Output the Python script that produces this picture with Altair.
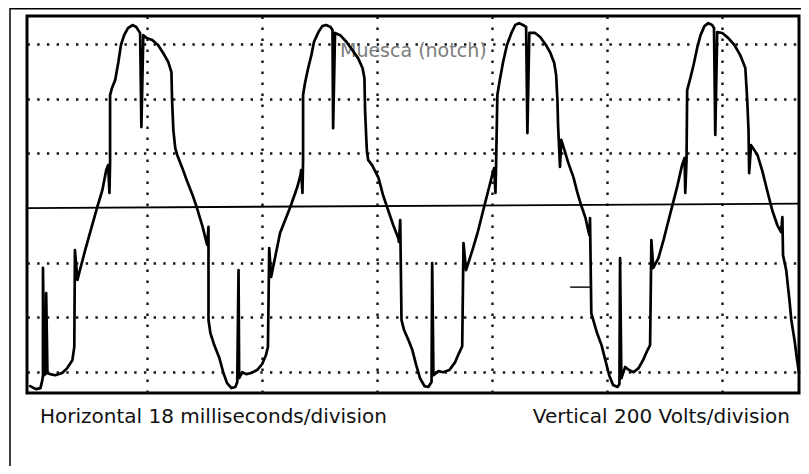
import altair as alt
import pandas as pd

# Oscilloscope trace: (time in ms, voltage in V)
cycle1 = [(-0.3, -651), (0.6, -662), (1.3, -658), (1.6, -629), (1.7, -611), (1.7, -219), (1.9, -611),
          (2.2, -603), (2.2, -311), (2.4, -603), (2.8, -607), (3.6, -611), (4.7, -603), (5.5, -585),
          (6.3, -556), (6.6, -508), (6.7, -154), (7.1, -263), (7.4, -234), (8.3, -154), (9.4, -62),
          (10.2, 4), (11.0, 66), (11.6, 139), (11.9, 157), (12.1, 55), (12.2, 168), (12.2, 413),
          (12.5, 439), (13.0, 468), (13.5, 534), (13.9, 596), (14.4, 632), (15.0, 658), (15.7, 669),
          (16.3, 662), (16.8, 643), (16.9, 640), (17.1, 296), (17.4, 632), (17.9, 622), (18.8, 614),
          (19.7, 596), (20.5, 567), (21.3, 534), (21.8, 497), (21.9, 395), (22.1, 285), (22.4, 219),
          (22.7, 194), (23.5, 146), (24.3, 95), (25.1, 48), (25.8, 0), (26.6, -62), (27.2, -117),
          (27.4, -135), (27.6, -69), (27.6, -409), (27.9, -457), (28.5, -501), (29.3, -548),
          (29.9, -600), (30.5, -640), (31.2, -658), (31.8, -654), (32.1, -636), (32.3, -227),
          (32.4, -622), (32.9, -600), (33.5, -607), (34.3, -603), (35.2, -592), (36.0, -570),
          (36.6, -537), (36.9, -508), (37.1, -146), (37.4, -252)]
cycle2 = [(38.8, -91), (40.4, 4), (41.5, 77), (42.0, 121), (42.1, 139), (42.3, 55), (42.4, 175),
          (42.4, 413), (42.7, 457), (43.2, 512), (43.7, 559), (44.1, 607), (44.8, 643), (45.4, 665),
          (46.0, 669), (46.7, 662), (47.0, 651), (47.1, 292), (47.4, 640), (48.2, 632), (49.2, 607),
          (50.1, 578), (51.0, 548), (51.7, 512), (52.0, 475), (52.1, 358), (52.3, 249), (52.4, 205),
          (52.6, 175), (53.2, 157), (54.2, 110), (54.9, 48), (55.7, -7), (56.5, -62), (57.3, -110),
          (57.4, -124), (57.6, -44), (57.8, -409), (58.2, -446), (58.9, -483), (59.5, -519),
          (60.1, -574), (60.7, -622), (61.4, -651), (62.0, -654), (62.5, -636), (62.6, -201),
          (62.8, -611), (63.6, -596), (64.3, -600), (65.3, -592), (66.2, -563), (66.8, -530),
          (67.3, -505), (67.5, -128), (67.9, -227), (68.9, -154), (69.7, -91), (70.6, -7),
          (71.4, 66), (72.0, 121), (72.3, 146), (72.5, 55), (72.6, 157), (72.8, 413), (73.1, 457),
          (73.7, 534), (74.3, 596), (75.0, 640), (75.6, 669), (76.2, 676), (76.8, 669), (77.3, 662),
          (77.5, 274), (77.8, 640)]
cycle3 = [(78.7, 640), (79.5, 625), (80.4, 596), (81.1, 567), (81.7, 530), (82.0, 486), (82.2, 395),
          (82.3, 303), (82.6, 150), (82.8, 249), (83.3, 212), (83.9, 165), (84.7, 113), (85.3, 58),
          (85.9, 11), (86.6, -37), (87.0, -80), (87.2, -99), (87.3, -37), (87.5, -384), (87.8, -409),
          (88.4, -457), (89.1, -501), (89.7, -556), (90.3, -611), (90.9, -647), (91.6, -654),
          (91.9, -643), (92.0, -183), (92.2, -622), (92.8, -581), (93.4, -592), (94.1, -600),
          (94.9, -585), (95.6, -556), (96.3, -519), (96.7, -501), (96.9, -117), (97.2, -219),
          (98.0, -183), (98.8, -117), (99.4, -62), (100.2, 11), (101.0, 84), (101.7, 157),
          (102.1, 183), (102.2, 55), (102.4, 175), (102.5, 431), (103.0, 475), (103.5, 523),
          (104.1, 589), (104.6, 632), (105.2, 665), (105.8, 676), (106.4, 669), (106.7, 658),
          (106.9, 267), (107.2, 643)]
cycle4 = [(108.0, 640), (108.9, 622), (109.9, 596), (110.8, 559), (111.6, 512), (111.9, 395),
          (112.1, 285), (112.2, 128), (112.5, 230), (113.5, 194), (114.3, 132), (115.0, 66),
          (115.8, -7), (116.6, -62), (117.2, -88), (117.4, -33), (117.5, -172), (118.0, -227),
          (118.5, -336), (118.8, -409), (119.3, -483), (119.7, -556), (120.0, -603)]
stray_mark = [(84.2, -289), (87.3, -289)]
baseline = [(-0.8, 0), (120.0, 16)]

x_grid = [18, 36, 54, 72, 90, 108]
y_grid = [-600, -400, -200, 200, 400, 600]
x_domain = [-0.8, 120.0]
y_domain = [-676, 702]

caption_left = "Horizontal 18 milliseconds/division"
caption_right = "Vertical 200 Volts/division"
annotation = "Muesca (notch)"


def frame(points):
    return pd.DataFrame([{"i": i, "t": t, "v": v} for i, (t, v) in enumerate(points)])


trace_df = frame(cycle1 + cycle2 + cycle3 + cycle4)
stray_df = frame(stray_mark)
base_df = frame(baseline)
one = pd.DataFrame({"k": [0]})

xs = alt.Scale(domain=x_domain, nice=False, zero=False)
ys = alt.Scale(domain=y_domain, nice=False, zero=False)
x_axis = alt.Axis(values=x_grid, grid=True, gridDash=[2.4, 8.6], gridColor="#151515",
                  gridWidth=2.4, labels=False, ticks=False, domain=False, title=None)
y_axis = alt.Axis(values=y_grid, grid=True, gridDash=[2.4, 7.3], gridColor="#151515",
                  gridWidth=2.4, labels=False, ticks=False, domain=False, title=None)
X = alt.X("t:Q", scale=xs, axis=x_axis)
Y = alt.Y("v:Q", scale=ys, axis=y_axis)

base_layer = alt.Chart(base_df).mark_line(color="black", strokeWidth=1.8).encode(
    x=X, y=Y, order="i:Q")

note_layer = alt.Chart(one).mark_text(
    text=annotation, align="left", baseline="alphabetic", font="DejaVu Sans",
    fontSize=19, color="#7c7c7c").encode(x=alt.value(313), y=alt.value(41))

trace_layer = alt.Chart(trace_df).mark_line(
    color="black", strokeWidth=2.7, strokeJoin="round", strokeCap="round").encode(
    x=X, y=Y, order="i:Q")

stray_layer = alt.Chart(stray_df).mark_line(color="black", strokeWidth=1.4).encode(
    x=X, y=Y, order="i:Q")

outer_left = alt.Chart(one).mark_rule(color="black", strokeWidth=1.5).encode(
    x=alt.value(-17), y=alt.value(-8), y2=alt.value(460))
outer_top = alt.Chart(one).mark_rule(color="black", strokeWidth=1.5).encode(
    x=alt.value(-17), x2=alt.value(790), y=alt.value(-7.3))

cap_left = alt.Chart(one).mark_text(
    text=caption_left, align="left", baseline="alphabetic", font="DejaVu Sans",
    fontSize=20, color="#111111").encode(x=alt.value(13), y=alt.value(407))
cap_right = alt.Chart(one).mark_text(
    text=caption_right, align="right", baseline="alphabetic", font="DejaVu Sans",
    fontSize=20, color="#111111").encode(x=alt.value(763), y=alt.value(407))

chart = alt.layer(
    base_layer, note_layer, trace_layer, stray_layer, outer_left, outer_top, cap_left, cap_right
).properties(
    width=772, height=377,
    autosize=alt.AutoSizeParams(type="none"),
    padding={"left": 19, "top": 8, "right": 2, "bottom": 73},
    background="white",
).configure_view(stroke="black", strokeWidth=3)

chart.save("out.html", embed_options={"renderer": "svg", "actions": False})
